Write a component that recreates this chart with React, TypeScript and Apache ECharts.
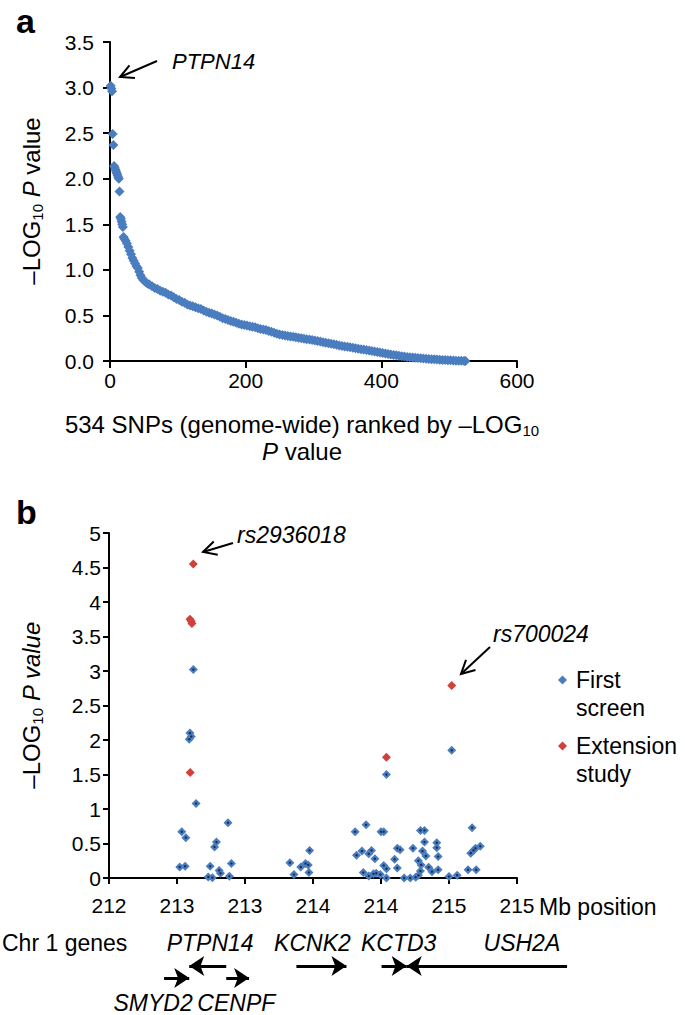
import React, { useEffect, useRef } from "react";
import * as echarts from "echarts";

// ---------- DATA ----------
// Panel a: 534 SNPs ranked by -log10 P (rank, -log10 P)
const rankedSnps: [number, number][] = [
  [1, 3.02], [2, 2.99], [3, 2.96], [4, 2.49], [5, 2.37], [6, 2.14], [7, 2.12], [8, 2.1],
  [9, 2.08], [10, 2.06], [11, 2.04], [12, 2.02], [13, 2.0], [14, 1.86], [15, 1.58], [16, 1.56],
  [17, 1.53], [18, 1.5], [19, 1.47], [20, 1.36], [21, 1.34], [23, 1.32], [25, 1.29], [27, 1.25],
  [29, 1.21], [31, 1.17], [33, 1.13], [35, 1.1], [37, 1.07], [39, 1.04], [41, 1.02], [43, 0.98],
  [45, 0.94], [47, 0.91], [49, 0.89], [52, 0.87], [55, 0.85], [58, 0.84], [62, 0.82], [66, 0.8],
  [70, 0.79], [74, 0.77], [78, 0.76], [82, 0.75], [86, 0.73], [90, 0.72], [94, 0.7], [98, 0.68],
  [102, 0.67], [106, 0.65], [110, 0.64], [114, 0.62], [118, 0.61], [122, 0.6], [126, 0.59],
  [130, 0.58], [134, 0.57], [138, 0.555], [142, 0.54], [146, 0.53], [150, 0.52], [154, 0.51],
  [158, 0.5], [162, 0.485], [166, 0.47], [170, 0.46], [174, 0.45], [178, 0.44], [182, 0.43],
  [186, 0.42], [190, 0.41], [194, 0.4], [198, 0.395], [202, 0.39], [206, 0.38], [210, 0.375],
  [214, 0.37], [218, 0.36], [222, 0.35], [226, 0.345], [230, 0.34], [234, 0.33], [238, 0.32],
  [242, 0.31], [246, 0.3], [250, 0.29], [254, 0.285], [258, 0.28], [262, 0.275], [266, 0.27],
  [270, 0.265], [274, 0.26], [278, 0.255], [282, 0.25], [286, 0.245], [290, 0.24], [294, 0.235],
  [298, 0.23], [302, 0.225], [306, 0.22], [310, 0.213], [314, 0.207], [318, 0.2], [322, 0.195],
  [326, 0.19], [330, 0.183], [334, 0.177], [338, 0.17], [342, 0.165], [346, 0.16], [350, 0.155],
  [354, 0.15], [358, 0.145], [362, 0.14], [366, 0.135], [370, 0.13], [374, 0.125], [378, 0.12],
  [382, 0.115], [386, 0.11], [390, 0.105], [394, 0.1], [398, 0.094], [402, 0.088], [406, 0.082],
  [410, 0.077], [414, 0.072], [418, 0.067], [422, 0.062], [426, 0.057], [430, 0.053], [434, 0.049],
  [438, 0.045], [442, 0.042], [446, 0.039], [450, 0.036], [454, 0.033], [458, 0.03], [462, 0.027],
  [466, 0.025], [470, 0.022], [474, 0.02], [478, 0.018], [482, 0.016], [486, 0.014], [490, 0.012],
  [494, 0.01], [498, 0.009], [502, 0.007], [506, 0.006], [510, 0.004], [514, 0.003], [518, 0.002],
  [522, 0.001], [524, 0.0],
];

// Panel b: (Mb position, -log10 P)
const firstScreen: [number, number][] = [
  [212.62, 3.02], [212.595, 2.1], [212.605, 2.05], [212.59, 2.01], [212.64, 1.08],
  [212.535, 0.67], [212.565, 0.585], [212.52, 0.16], [212.56, 0.17],
  [212.744, 0.17], [212.73, 0.015], [212.76, 0.005], [212.79, 0.52], [212.776, 0.45],
  [212.81, 0.11], [212.82, 0.07], [212.875, 0.8], [212.9, 0.21], [212.885, 0.025],
  [213.33, 0.22], [213.36, 0.05], [213.41, 0.16], [213.445, 0.21], [213.465, 0.19],
  [213.475, 0.4], [213.47, 0.08],
  [213.81, 0.67], [213.89, 0.77], [213.82, 0.33], [213.86, 0.39], [213.91, 0.35], [213.93, 0.4],
  [213.955, 0.28], [213.87, 0.08], [213.91, 0.03], [213.945, 0.06], [213.965, 0.07],
  [213.995, 0.05], [214.0, 0.67], [214.02, 0.67], [214.02, 0.18], [214.04, 0.135], [214.04, 0.0],
  [214.04, 1.5],
  [214.1, 0.27], [214.12, 0.43], [214.14, 0.41], [214.12, 0.145], [214.235, 0.43], [214.17, 0.0],
  [214.215, 0.0], [214.255, 0.01], [214.275, 0.04], [214.275, 0.25], [214.29, 0.69], [214.32, 0.69],
  [214.32, 0.52], [214.305, 0.39], [214.33, 0.32], [214.295, 0.19], [214.29, 0.1], [214.35, 0.155],
  [214.375, 0.09], [214.41, 0.51], [214.41, 0.44], [214.42, 0.31], [214.42, 0.12],
  [214.5, 0.02], [214.52, 1.85], [214.56, 0.04], [214.64, 0.12], [214.7, 0.12], [214.67, 0.73],
  [214.66, 0.36], [214.68, 0.4], [214.695, 0.43], [214.73, 0.46],
];
const extensionStudy: [number, number][] = [
  [212.62, 4.55], [212.595, 3.75], [212.605, 3.72], [212.61, 3.69], [212.597, 1.53],
  [214.04, 1.75], [214.52, 2.79],
];

// Chr 1 genes: transcription start -> end (Mb), lane 0 = upper row, 1 = lower row
const geneNames = ["PTPN14", "KCNK2", "KCTD3", "USH2A", "SMYD2", "CENPF"];
const geneStartMb = [212.862, 213.378, 214.004, 215.368, 212.405, 212.862];
const geneEndMb = [212.59, 213.746, 214.189, 214.189, 212.59, 213.03];
const geneLabelMb = [212.744, 213.496, 214.13, 215.036, 212.324, 212.936];
const geneLane = [0, 0, 0, 0, 1, 1];

const seriesNames = ["First screen", "Extension study"];

// ---------- STYLE ----------
const FONT = "'Liberation Sans', Arial, Helvetica, sans-serif";
const BLUE = "#4a7dbf";
const RED = "#d0413b";

function arrowGraphic(tail: number[], tip: number[], head = 15) {
  const dx = tail[0] - tip[0];
  const dy = tail[1] - tip[1];
  const len = Math.hypot(dx, dy);
  const ux = dx / len;
  const uy = dy / len;
  const a = 0.48;
  const c = Math.cos(a);
  const s = Math.sin(a);
  const p1 = [tip[0] + head * (ux * c - uy * s), tip[1] + head * (ux * s + uy * c)];
  const p2 = [tip[0] + head * (ux * c + uy * s), tip[1] + head * (-ux * s + uy * c)];
  return [
    { type: "line", shape: { x1: tail[0], y1: tail[1], x2: tip[0], y2: tip[1] }, style: { stroke: "#000", lineWidth: 2 } },
    { type: "polyline", shape: { points: [p1, tip, p2] }, style: { stroke: "#000", lineWidth: 2, fill: null } },
  ];
}

function buildOption() {
  const axisLine = { show: true, onZero: false, lineStyle: { color: "#000", width: 2 } };
  const axisTick = { show: true, length: 7, lineStyle: { color: "#000", width: 2 } };
  const label = { color: "#000", fontSize: 21, fontFamily: FONT };

  const laneArrowY = [1.8, 2.4];
  const laneLabelY = [0.65, 3.65];

  const subRich = {
    n: { fontSize: 24, fontFamily: FONT, color: "#000", lineHeight: 28 },
    i: { fontSize: 24, fontFamily: FONT, color: "#000", fontStyle: "italic", lineHeight: 28 },
    s: { fontSize: 15, fontFamily: FONT, color: "#000", verticalAlign: "bottom", lineHeight: 14 },
  };

  const graphics: any[] = [
    { type: "text", x: 16, y: 21, style: { text: "a", fontSize: 34, fontWeight: "bold", fontFamily: FONT, fill: "#000", verticalAlign: "middle" } },
    { type: "text", x: 16, y: 512, style: { text: "b", fontSize: 34, fontWeight: "bold", fontFamily: FONT, fill: "#000", verticalAlign: "middle" } },
    {
      type: "text", x: 31, y: 201, rotation: Math.PI / 2,
      style: { text: "{n|–LOG}{s|10}{n| }{i|P}{n| value}", rich: subRich, align: "center", verticalAlign: "middle" },
    },
    {
      type: "text", x: 31, y: 705, rotation: Math.PI / 2,
      style: { text: "{n|–LOG}{s|10}{i| P value}", rich: subRich, align: "center", verticalAlign: "middle" },
    },
    {
      type: "text", x: 302, y: 424,
      style: { text: "{n|534 SNPs (genome-wide) ranked by –LOG}{s|10}", rich: subRich, align: "center", verticalAlign: "middle" },
    },
    {
      type: "text", x: 302, y: 451,
      style: { text: "{i|P}{n| value}", rich: subRich, align: "center", verticalAlign: "middle" },
    },
    { type: "text", x: 172, y: 61, style: { text: "PTPN14", fontSize: 22, fontStyle: "italic", fontFamily: FONT, fill: "#000", verticalAlign: "middle" } },
    { type: "text", x: 237, y: 535, style: { text: "rs2936018", fontSize: 23, fontStyle: "italic", fontFamily: FONT, fill: "#000", verticalAlign: "middle" } },
    { type: "text", x: 493, y: 634, style: { text: "rs700024", fontSize: 23, fontStyle: "italic", fontFamily: FONT, fill: "#000", verticalAlign: "middle" } },
    { type: "text", x: 539, y: 907, style: { text: "Mb position", fontSize: 23, fontFamily: FONT, fill: "#000", verticalAlign: "middle" } },
    { type: "text", x: 2, y: 943, style: { text: "Chr 1 genes", fontSize: 23, fontFamily: FONT, fill: "#000", verticalAlign: "middle" } },
    ...arrowGraphic([157, 61], [120, 77]),
    ...arrowGraphic([233, 543], [203, 552]),
    ...arrowGraphic([490, 647], [461, 674]),
  ];

  // gene track uses the same Mb scale as panel b (408 px per 3 Mb), extended to 215.5
  const pxPerMb = 408 / 3;

  return {
    animation: false,
    backgroundColor: "#fff",
    textStyle: { fontFamily: FONT },
    grid: [
      { left: 110, top: 42, width: 407, height: 319 },
      { left: 109, top: 533, width: 408, height: 345 },
      { left: 109, top: 930, width: pxPerMb * 3.5, height: 80 },
    ],
    xAxis: [
      { gridIndex: 0, type: "value", min: 0, max: 600, interval: 200, axisLine, axisTick, splitLine: { show: false }, axisLabel: { ...label, margin: 9 } },
      {
        gridIndex: 1, type: "value", min: 212, max: 215, interval: 0.5, axisLine, axisTick: { ...axisTick, length: 6 }, splitLine: { show: false },
        axisLabel: { ...label, margin: 17, formatter: (v: number) => String(Math.round(v)) },
      },
      { gridIndex: 2, type: "value", min: 212, max: 215.5, show: false },
    ],
    yAxis: [
      {
        gridIndex: 0, type: "value", min: 0, max: 3.5, interval: 0.5, axisLine, axisTick, splitLine: { show: false },
        axisLabel: { ...label, margin: 16, formatter: (v: number) => v.toFixed(1) },
      },
      {
        gridIndex: 1, type: "value", min: 0, max: 5, interval: 0.5, axisLine, axisTick: { ...axisTick, length: 6 }, splitLine: { show: false },
        axisLabel: { ...label, margin: 8, formatter: (v: number) => String(v) },
      },
      { gridIndex: 2, type: "value", min: 0, max: 4, inverse: true, show: false },
    ],
    legend: {
      data: seriesNames,
      orient: "vertical",
      left: 558,
      top: 638,
      padding: 0,
      icon: "diamond",
      itemWidth: 9,
      itemHeight: 9,
      itemGap: -18,
      formatter: (name: string) => "\n" + name.replace(" ", "\n"),
      textStyle: { fontSize: 23, fontFamily: FONT, color: "#000", lineHeight: 28, padding: [0, 0, 0, 4] },
    },
    graphic: graphics,
    series: [
      {
        type: "scatter", xAxisIndex: 0, yAxisIndex: 0, data: rankedSnps, symbol: "diamond", symbolSize: 10,
        itemStyle: { color: BLUE, opacity: 1 }, silent: true,
      },
      {
        name: seriesNames[0], type: "scatter", xAxisIndex: 1, yAxisIndex: 1, data: firstScreen, symbol: "diamond", symbolSize: 9,
        itemStyle: { color: BLUE, opacity: 1 },
      },
      {
        name: "centre", type: "scatter", xAxisIndex: 1, yAxisIndex: 1, data: firstScreen, symbol: "circle", symbolSize: 2.4,
        itemStyle: { color: "#1a2d4d", opacity: 1 }, silent: true,
      },
      {
        name: seriesNames[1], type: "scatter", xAxisIndex: 1, yAxisIndex: 1, data: extensionStudy, symbol: "diamond", symbolSize: 9,
        itemStyle: { color: RED, opacity: 1 },
      },
      {
        type: "lines", coordinateSystem: "cartesian2d", xAxisIndex: 2, yAxisIndex: 2,
        symbol: ["none", "arrow"], symbolSize: 15,
        lineStyle: { color: "#000", width: 3, opacity: 1 },
        data: geneNames.map((n, i) => ({
          name: n,
          coords: [[geneStartMb[i], laneArrowY[geneLane[i]]], [geneEndMb[i], laneArrowY[geneLane[i]]]],
        })),
        silent: true,
      },
      {
        type: "scatter", xAxisIndex: 2, yAxisIndex: 2, symbolSize: 1,
        itemStyle: { color: "rgba(0,0,0,0)", opacity: 1 },
        label: { show: true, position: "inside", formatter: "{b}", fontSize: 23, fontStyle: "italic", fontFamily: FONT, color: "#000" },
        data: geneNames.map((n, i) => ({ name: n, value: [geneLabelMb[i], laneLabelY[geneLane[i]]] })),
        silent: true,
      },
    ],
  };
}

export default function App() {
  const ref = useRef<HTMLDivElement>(null);
  useEffect(() => {
    const chart = echarts.init(ref.current!, null, { renderer: "svg" });
    chart.setOption(buildOption() as any);
    return () => chart.dispose();
  }, []);
  return (
    <div
      ref={ref}
      style={{ position: "absolute", left: 0, top: 0, width: 685, height: 1015, background: "#fff" }}
    />
  );
}
